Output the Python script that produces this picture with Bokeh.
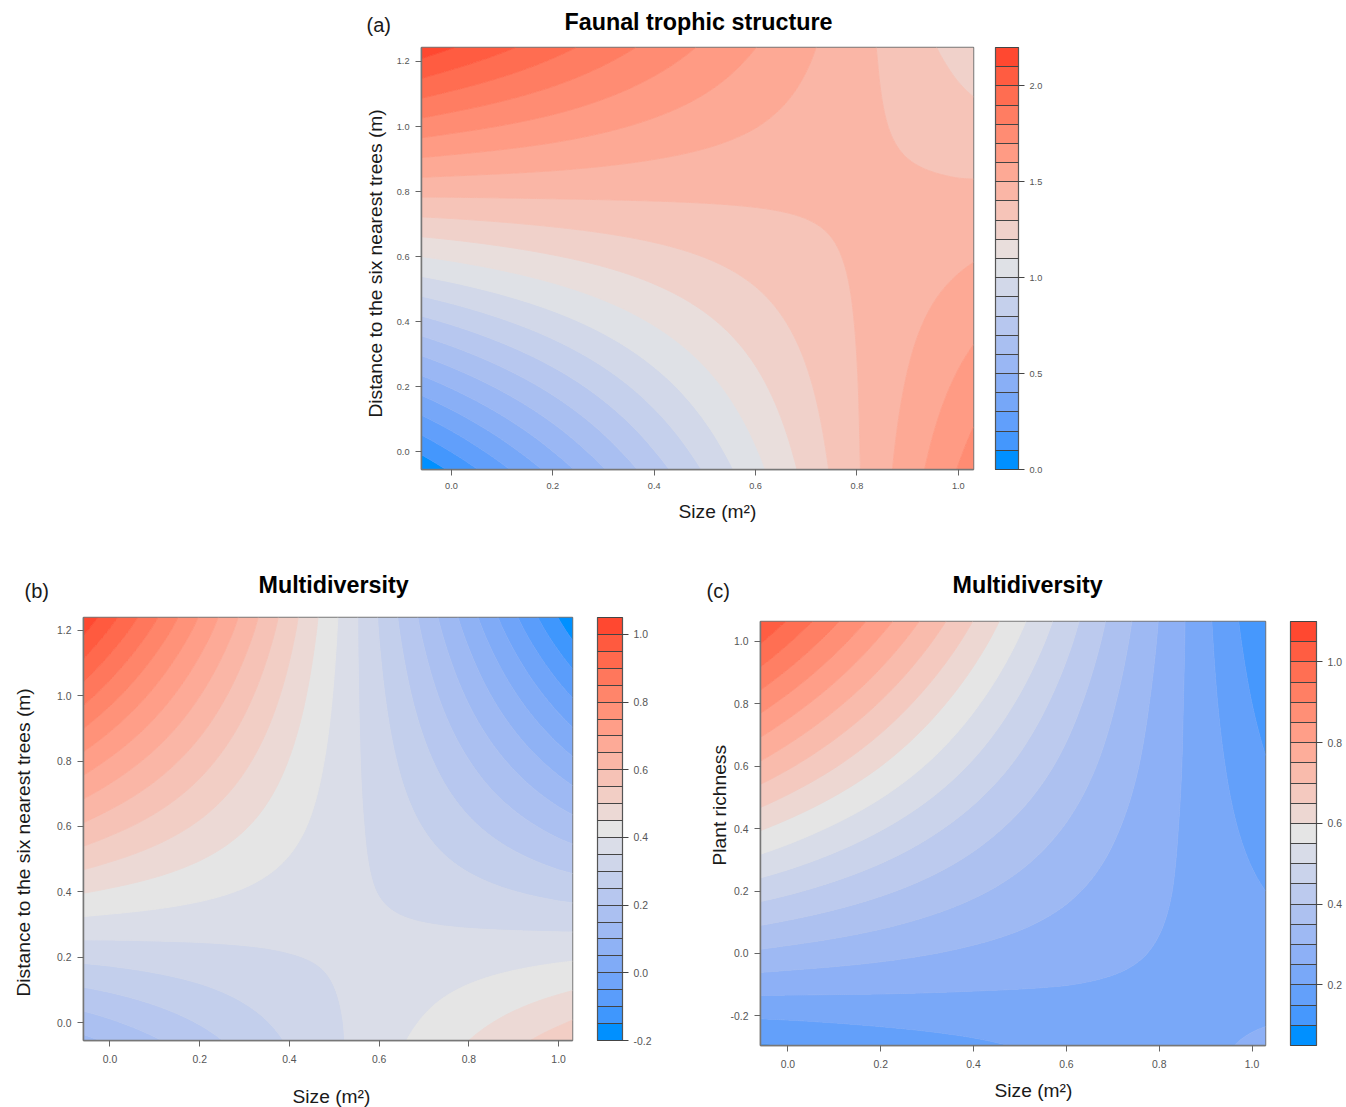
import numpy as np
from bokeh.plotting import figure
from bokeh.embed import file_html
from bokeh.resources import INLINE
from bokeh.layouts import column, row
from bokeh.models import (ColorBar, FixedTicker, LinearColorMapper,
                          PrintfTickFormatter, Range1d, Title)

# ---------- values ----------
# Each surface is a table of values estimated from the contour crossings at the
# tick positions and the plot limits (first row = bottom of the panel).
A_x = [-0.059, 0.0, 0.2, 0.4, 0.6, 0.8, 1.0, 1.03]
A_y = [-0.055, 0.0, 0.2, 0.4, 0.6, 0.8, 1.0, 1.2, 1.243]
A_z = [
    [0.024, 0.117, 0.434, 0.753, 1.069, 1.389, 1.705, 1.752],
    [0.116, 0.202, 0.499, 0.797, 1.092, 1.391, 1.686, 1.730],
    [0.444, 0.509, 0.730, 0.953, 1.174, 1.397, 1.618, 1.651],
    [0.772, 0.815, 0.962, 1.110, 1.256, 1.404, 1.550, 1.572],
    [1.100, 1.121, 1.194, 1.266, 1.338, 1.411, 1.482, 1.493],
    [1.428, 1.427, 1.426, 1.423, 1.420, 1.417, 1.414, 1.415],
    [1.757, 1.733, 1.658, 1.579, 1.502, 1.424, 1.346, 1.336],
    [2.085, 2.039, 1.889, 1.735, 1.583, 1.431, 1.279, 1.257],
    [2.155, 2.105, 1.939, 1.769, 1.601, 1.432, 1.264, 1.240],
]
A_levels = [round(0.1 * i, 1) for i in range(23)]
A_bar_ticks = [0.0, 0.5, 1.0, 1.5, 2.0]

B_x = [-0.059, 0.0, 0.2, 0.4, 0.6, 0.8, 1.0, 1.031]
B_y = [-0.055, 0.0, 0.2, 0.4, 0.6, 0.8, 1.0, 1.2, 1.239]
B_z = [
    [0.137, 0.158, 0.231, 0.305, 0.378, 0.450, 0.523, 0.535],
    [0.176, 0.193, 0.253, 0.314, 0.374, 0.434, 0.494, 0.504],
    [0.313, 0.317, 0.332, 0.348, 0.362, 0.376, 0.391, 0.393],
    [0.453, 0.443, 0.412, 0.381, 0.349, 0.317, 0.285, 0.281],
    [0.592, 0.568, 0.492, 0.415, 0.337, 0.259, 0.181, 0.170],
    [0.730, 0.693, 0.571, 0.448, 0.324, 0.201, 0.077, 0.058],
    [0.871, 0.820, 0.651, 0.482, 0.311, 0.142, -0.028, -0.054],
    [1.011, 0.946, 0.732, 0.516, 0.298, 0.084, -0.133, -0.167],
    [1.036, 0.969, 0.746, 0.522, 0.296, 0.073, -0.152, -0.187],
]
B_levels = [round(-0.2 + 0.05 * i, 2) for i in range(26)]
B_bar_ticks = [-0.2, 0.0, 0.2, 0.4, 0.6, 0.8, 1.0]

C_x = [-0.059, 0.0, 0.2, 0.4, 0.6, 0.8, 1.0, 1.029]
C_y = [-0.295, -0.2, 0.0, 0.2, 0.4, 0.6, 0.8, 1.0, 1.064]
C_z = [
    [0.145, 0.151, 0.172, 0.192, 0.213, 0.233, 0.254, 0.257],
    [0.206, 0.208, 0.216, 0.223, 0.231, 0.237, 0.245, 0.246],
    [0.341, 0.334, 0.313, 0.291, 0.270, 0.247, 0.226, 0.223],
    [0.472, 0.458, 0.408, 0.358, 0.308, 0.257, 0.207, 0.200],
    [0.604, 0.581, 0.503, 0.424, 0.346, 0.266, 0.188, 0.177],
    [0.739, 0.707, 0.600, 0.492, 0.385, 0.276, 0.169, 0.154],
    [0.870, 0.830, 0.695, 0.559, 0.423, 0.285, 0.150, 0.131],
    [1.005, 0.956, 0.791, 0.627, 0.462, 0.295, 0.131, 0.107],
    [1.047, 0.996, 0.822, 0.648, 0.474, 0.298, 0.125, 0.100],
]
C_levels = [round(0.05 + 0.05 * i, 2) for i in range(22)]
C_bar_ticks = [0.2, 0.4, 0.6, 0.8, 1.0]

x_ticks = [0.0, 0.2, 0.4, 0.6, 0.8, 1.0]
y_ticks_ab = [0.0, 0.2, 0.4, 0.6, 0.8, 1.0, 1.2]
y_ticks_c = [-0.2, 0.0, 0.2, 0.4, 0.6, 0.8, 1.0]
# --------------------------------------------------

FONT = "Liberation Sans"
RAMP = ["#0090FF", "#E5E5E5", "#FF4830"]


def _to_lab(h):
    c = np.array([int(h[i:i + 2], 16) / 255 for i in (1, 3, 5)])
    c = np.where(c > 0.04045, ((c + 0.055) / 1.055) ** 2.4, c / 12.92)
    m = np.array([[0.4124, 0.3576, 0.1805], [0.2126, 0.7152, 0.0722], [0.0193, 0.1192, 0.9505]])
    xyz = m @ c / np.array([0.95047, 1.0, 1.08883])
    f = np.where(xyz > 0.008856, np.cbrt(xyz), 7.787 * xyz + 16 / 116)
    return np.array([116 * f[1] - 16, 500 * (f[0] - f[1]), 200 * (f[1] - f[2])])


def _from_lab(lab):
    fy = (lab[0] + 16) / 116
    f = np.array([fy + lab[1] / 500, fy, fy - lab[2] / 200])
    xyz = np.where(f ** 3 > 0.008856, f ** 3, (f - 16 / 116) / 7.787) * np.array([0.95047, 1.0, 1.08883])
    m = np.array([[3.2406, -1.5372, -0.4986], [-0.9689, 1.8758, 0.0415], [0.0557, -0.2040, 1.0570]])
    c = np.clip(m @ xyz, 0, 1)
    c = np.where(c > 0.0031308, 1.055 * c ** (1 / 2.4) - 0.055, 12.92 * c)
    return "#%02X%02X%02X" % tuple(int(round(v * 255)) for v in c)


def palette(n):
    lo, mid, hi = (_to_lab(h) for h in RAMP)
    out = []
    for i in range(n):
        t = 2 * i / (n - 1)
        out.append(_from_lab(lo + (mid - lo) * t if t <= 1 else mid + (hi - mid) * (t - 1)))
    return out


def drawing_mesh(xn, yn, z, n=241):
    """Finer mesh for the contour drawing only: bilinear inside each cell of the read
    table, so the bands curve instead of showing straight segments between table nodes."""
    xn, yn, z = np.array(xn), np.array(yn), np.array(z)
    fx, fy = np.linspace(xn[0], xn[-1], n), np.linspace(yn[0], yn[-1], n)
    ix = np.interp(fx, xn, np.arange(len(xn)))
    iy = np.interp(fy, yn, np.arange(len(yn)))
    i0 = np.minimum(ix.astype(int), len(xn) - 2)
    j0 = np.minimum(iy.astype(int), len(yn) - 2)
    u, v = (ix - i0)[None, :], (iy - j0)[:, None]
    zz = (z[np.ix_(j0, i0)] * (1 - u) * (1 - v) + z[np.ix_(j0, i0 + 1)] * u * (1 - v)
          + z[np.ix_(j0 + 1, i0)] * (1 - u) * v + z[np.ix_(j0 + 1, i0 + 1)] * u * v)
    return fx, fy, zz


def panel(xn, yn, z, levels, bar_ticks, y_ticks, width, height, left, top, fw, fh,
          bar_dx, bar_w, tick_size, xstand, title, title_pos, tag, tag_pos,
          xlabel_pos, ylabel, ylabel_pos):
    p = figure(width=width, height=height, output_backend="svg", toolbar_location=None,
               x_range=Range1d(xn[0], xn[-1]), y_range=Range1d(yn[0], yn[-1]),
               min_border_left=left, min_border_top=top,
               min_border_right=width - left - fw,
               min_border_bottom=height - top - fh)
    p.frame_align = False
    pal = palette(len(levels) - 1)
    fx, fy, zz = drawing_mesh(xn, yn, z)
    p.contour(fx, fy, zz, levels=levels, fill_color=pal,
              line_color=pal + [pal[-1]], line_width=1)

    p.grid.visible = False
    p.outline_line_color = "#777777"
    p.outline_line_width = 1.5
    p.background_fill_color = "#E5E5E5"
    p.border_fill_color = None
    for ax, ticks in ((p.xaxis[0], x_ticks), (p.yaxis[0], y_ticks)):
        ax.ticker = FixedTicker(ticks=ticks)
        ax.formatter = PrintfTickFormatter(format="%.1f")
        ax.axis_line_color = "#777777"
        ax.axis_line_width = 1.5
        ax.major_tick_line_color = "#666666"
        ax.major_tick_in = 0
        ax.major_tick_out = 6
        ax.minor_tick_line_color = None
        ax.major_label_text_font = FONT
        ax.major_label_text_font_size = f"{tick_size}px"
        ax.major_label_text_color = "#555555"
    p.xaxis[0].major_label_standoff = xstand
    p.yaxis[0].major_label_standoff = 6
    p.yaxis[0].major_label_orientation = "horizontal"

    mapper = LinearColorMapper(palette=pal, low=levels[0], high=levels[-1])
    bar = ColorBar(color_mapper=mapper, location=(fw + bar_dx, 0), width=bar_w, height=fh,
                   margin=0, padding=0,
                   ticker=FixedTicker(ticks=bar_ticks, minor_ticks=levels),
                   formatter=PrintfTickFormatter(format="%.1f"),
                   bar_line_color="#555555", bar_line_width=1.2,
                   major_tick_line_color="#444444", major_tick_in=bar_w, major_tick_out=6,
                   minor_tick_line_color="#444444", minor_tick_in=bar_w, minor_tick_out=0,
                   major_label_text_font=FONT, major_label_text_font_size=f"{tick_size}px",
                   major_label_text_color="#555555", label_standoff=5)
    p.add_layout(bar, "center")

    def text(s, side, pos, size, style="normal"):
        # pos = (distance along the side from the frame's start, gap kept before the text,
        #        standoff of the text itself)
        if pos[1] > 0:
            p.add_layout(Title(text=" ", standoff=pos[1], text_font_size="1px"), side)
        p.add_layout(Title(text=s, align="left", offset=pos[0], standoff=pos[2],
                           text_font=FONT, text_font_size=f"{size}px", text_font_style=style,
                           text_color="#000000" if style == "bold" else "#1A1A1A"), side)

    text(tag, "above", tag_pos, 20)
    text(title, "above", title_pos, 23.3, "bold")
    text("Size (m²)", "below", xlabel_pos, 19.2)
    text(ylabel, "left", ylabel_pos, 19.2)
    return p


DIST = "Distance to the six nearest trees (m)"
pa = panel(A_x, A_y, A_z, A_levels, A_bar_ticks, y_ticks_ab, 1346, 539, 421, 47, 552, 422,
           22, 23, 9.2, 7, "Faunal trophic structure", (143, 0, -46), "(a)", (-55, 9, 0),
           (257, 4, 0), DIST, (52, 5, 0))
pb = panel(B_x, B_y, B_z, B_levels, B_bar_ticks, y_ticks_ab, 660, 568, 83, 78, 489, 423,
           25, 25, 10.4, 8, "Multidiversity", (175, 0, -40), "(b)", (-59, 13, 0),
           (209, 15, 0), DIST, (44, 18, 0))
pc = panel(C_x, C_y, C_z, C_levels, C_bar_ticks, y_ticks_c, 686, 568, 100, 82, 505, 424,
           25, 26, 10.4, 8, "Multidiversity", (192, 0, -40), "(c)", (-54, 17, 0),
           (234, 4, 0), "Plant richness", (180, 0, -5))

layout = column(pa, row(pb, pc, spacing=0), spacing=0)
open("out.html", "w").write(file_html(layout, INLINE))
